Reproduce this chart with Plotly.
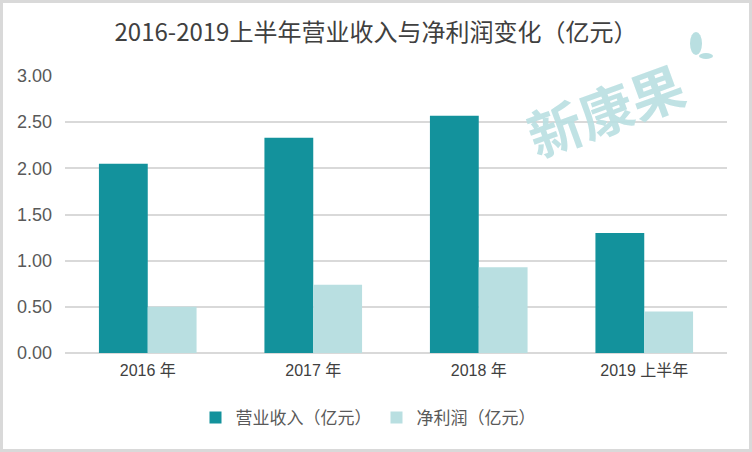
import plotly.graph_objects as go

categories = ["2016 年", "2017 年", "2018 年", "2019 上半年"]
revenue = [2.05, 2.33, 2.57, 1.30]
net_profit = [0.50, 0.74, 0.93, 0.45]
series_names = ["营业收入（亿元）", "净利润（亿元）"]
title_text = "2016-2019上半年营业收入与净利润变化（亿元）"
tick_vals = [0, 0.5, 1.0, 1.5, 2.0, 2.5, 3.0]

W, H = 752, 452
L, R, T, B = 65, 25, 76, 99
pw, ph = W - L - R, H - T - B

fig = go.Figure()
fig.add_trace(go.Bar(x=categories, y=revenue, name=series_names[0],
                     marker=dict(color="#13929C", line=dict(width=0))))
fig.add_trace(go.Bar(x=categories, y=net_profit, name=series_names[1],
                     marker=dict(color="#B9DFE1", line=dict(width=0))))

cjk = "Noto Sans CJK SC"
fig.update_layout(
    width=W, height=H,
    margin=dict(l=L, r=R, t=T, b=B, autoexpand=False),
    paper_bgcolor="white", plot_bgcolor="white",
    barmode="group", bargap=0.41, bargroupgap=0,
    title=dict(text=title_text, x=376 / W, xref="container", xanchor="center",
               y=1 - 33 / H, yref="container", yanchor="middle",
               font=dict(family=cjk, size=24, color="#404040")),
    legend=dict(orientation="h", x=(368 - L) / pw, xanchor="center",
                y=-(418 - (T + ph)) / ph, yanchor="middle",
                font=dict(family=cjk, size=17, color="#595959"),
                itemwidth=30, traceorder="normal"),
    showlegend=True,
    font=dict(family="Liberation Sans, Arial", color="#595959"),
)
fig.update_yaxes(range=[0, 3.0], tickvals=tick_vals, tickformat=".2f",
                 showgrid=True, gridcolor="#d9d9d9", gridwidth=1.5,
                 zeroline=True, zerolinecolor="#d9d9d9", zerolinewidth=1.5,
                 showline=False, ticks="", ticklabelstandoff=12,
                 tickfont=dict(family="Liberation Sans, Arial", size=18, color="#595959"))
fig.update_xaxes(showgrid=False, showline=False, ticks="", ticklabelstandoff=6,
                 tickfont=dict(family="Liberation Sans, " + cjk, size=16, color="#404040"))

# outer frame
fig.add_shape(type="rect", xref="paper", yref="paper",
              x0=(1.5 - L) / pw, x1=(W - 1.5 - L) / pw,
              y0=-(H - 1.5 - T - ph) / ph, y1=(T + ph - 1.5) / ph,
              line=dict(color="#d9d9d9", width=3), fillcolor="rgba(0,0,0,0)", layer="below")

# watermark
fig.add_annotation(text="<b>新康果</b>", xref="paper", yref="paper",
                   x=(605 - L) / pw, y=(T + ph - 108) / ph, showarrow=False,
                   xanchor="center", yanchor="middle",
                   textangle=-20, font=dict(family=cjk, size=54, color="rgba(185,223,225,0.9)"))
fig.add_shape(type="circle", xref="paper", yref="paper",
              x0=(690 - L) / pw, x1=(702 - L) / pw,
              y0=(T + ph - 55) / ph, y1=(T + ph - 32) / ph,
              line=dict(width=0), fillcolor="#B9DFE1")
fig.add_shape(type="circle", xref="paper", yref="paper",
              x0=(699 - L) / pw, x1=(713 - L) / pw,
              y0=(T + ph - 59) / ph, y1=(T + ph - 53) / ph,
              line=dict(width=0), fillcolor="#B9DFE1")

fig.write_html("out.html", config={"displayModeBar": False},
               post_script="document.body.style.margin='0';document.body.style.overflow='hidden';")
